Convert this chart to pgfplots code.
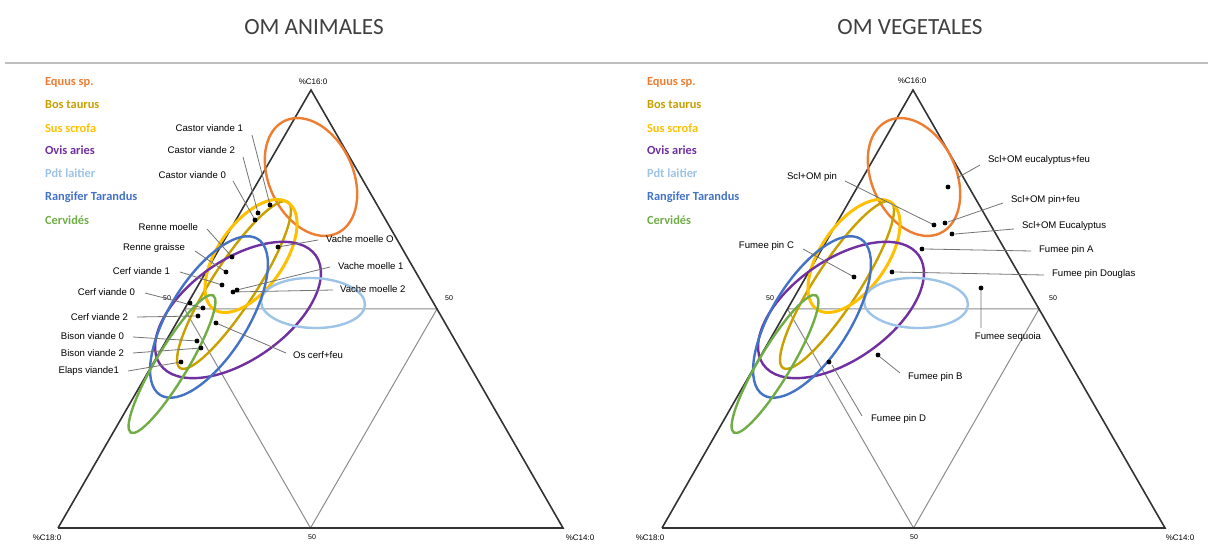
\documentclass[border=0pt]{standalone}
\usepackage{pgfplots}
\pgfplotsset{compat=1.18}
\usepackage{fontspec}
\setmainfont{Liberation Sans}
\newfontfamily\calfont{Carlito}

\definecolor{equus}{HTML}{ED7D31}
\definecolor{bos}{HTML}{C8A000}
\definecolor{sus}{HTML}{FFC000}
\definecolor{ovis}{HTML}{7030A0}
\definecolor{pdt}{HTML}{9DC3E6}
\definecolor{rang}{HTML}{4472C4}
\definecolor{cerv}{HTML}{70AD47}

% ellipse: colour, cx, cy, semi-major, semi-minor (px), angle
\newcommand{\ellip}[7][1.2pt]{%
  \draw[#2, line width=#1, rotate around={#7:(axis cs:#3,#4)}]
    (axis cs:#3,#4) ellipse [x radius=#5*0.5pt, y radius=#6*0.5pt];}
\newcommand{\lab}{\fontsize{4.8}{5}\selectfont}
\newcommand{\leg}{\calfont\bfseries\fontsize{6.2}{7}\selectfont}

\begin{document}
\begin{tikzpicture}
\begin{axis}[
    name=ax,
    width=604pt, height=272pt, scale only axis,
    xmin=0, xmax=1208, ymin=0, ymax=544, y dir=reverse,
    axis lines=none, ticks=none, clip=false
]
% titles and rule
\node[font=\calfont\fontsize{11.6}{13}\selectfont, text=black!75] at (axis cs:314,27) {OM ANIMALES};
\node[font=\calfont\fontsize{11.6}{13}\selectfont, text=black!75] at (axis cs:910,27) {OM VEGETALES};
\addplot[black!25, line width=1pt] coordinates {(5,63) (1208,63)};

% ---------- left triangle ----------
\addplot[black!45, line width=0.5pt] coordinates {(184.5,309) (437,309) (310.5,528) (184.5,309)};
\addplot[black!80, line width=0.8pt] coordinates {(58,528) (311,90) (563,528) (58,528)};
\node[font=\fontsize{4}{5}\selectfont] at (axis cs:313,82) {\%C16:0};
\node[font=\fontsize{4}{5}\selectfont] at (axis cs:47,538) {\%C18:0};
\node[font=\fontsize{4}{5}\selectfont] at (axis cs:580,538) {\%C14:0};
\node[font=\fontsize{3.5}{4}\selectfont] at (axis cs:312,537) {50};
\node[font=\fontsize{3.5}{4}\selectfont] at (axis cs:449,298) {50};
\node[font=\fontsize{3.5}{4}\selectfont] at (axis cs:167,298) {50};

\ellip{equus}{311}{177}{62}{42}{-65}
\ellip{bos}{234}{285}{99}{22}{57}
\ellip[1.5pt]{sus}{251}{256}{65}{33}{55}
\ellip{ovis}{238}{310}{95}{50}{35}
\ellip{pdt}{313}{303}{52}{25}{-2}
\ellip{rang}{209}{317}{92}{39}{58}
\ellip{cerv}{172}{364}{80}{16}{59}

\addplot[black!55, line width=0.4pt, unbounded coords=jump] coordinates {
  (252,135) (270,205) (nan,nan)
  (243,157) (258,213) (nan,nan)
  (233,181) (255,220) (nan,nan)
  (207,229) (232,257) (nan,nan)
  (195,251) (226,272) (nan,nan)
  (180,272) (222,285) (nan,nan)
  (145,293) (203,308) (nan,nan)
  (137,317) (198,316) (nan,nan)
  (133,337) (197,341) (nan,nan)
  (133,353) (201,348) (nan,nan)
  (128,371) (181,362) (nan,nan)
  (318,240) (278,247) (nan,nan)
  (330,267) (237,290) (nan,nan)
  (333,290) (233,292) (nan,nan)
  (286,353) (216,323)
};
\addplot[only marks, mark=*, mark size=1pt, black] coordinates {
  (270,205) (258,213) (255,220) (232,257) (226,272) (222,285)
  (278,247) (237,290) (233,292) (203,308) (190,303) (198,316)
  (216,323) (197,341) (201,348) (181,362)
};
\node[anchor=east, font=\lab] at (axis cs:250,128) {Castor viande 1};
\node[anchor=east, font=\lab] at (axis cs:242,150) {Castor viande 2};
\node[anchor=east, font=\lab] at (axis cs:233,175) {Castor viande 0};
\node[anchor=east, font=\lab] at (axis cs:205,227) {Renne moelle};
\node[anchor=east, font=\lab] at (axis cs:192,248) {Renne graisse};
\node[anchor=east, font=\lab] at (axis cs:177,271) {Cerf viande 1};
\node[anchor=east, font=\lab] at (axis cs:142,292) {Cerf viande 0};
\node[anchor=east, font=\lab] at (axis cs:135,317) {Cerf viande 2};
\node[anchor=east, font=\lab] at (axis cs:131,336) {Bison viande 0};
\node[anchor=east, font=\lab] at (axis cs:131,353) {Bison viande 2};
\node[anchor=east, font=\lab] at (axis cs:126,371) {Elaps viande1};
\node[anchor=west, font=\lab] at (axis cs:319,239) {Vache moelle O};
\node[anchor=west, font=\lab] at (axis cs:331,266) {Vache moelle 1};
\node[anchor=west, font=\lab] at (axis cs:333,289) {Vache moelle 2};
\node[anchor=west, font=\lab] at (axis cs:286,355) {Os cerf+feu};

% legend (left)
\node[anchor=west, font=\leg, text=equus] at (axis cs:38,82) {Equus sp.};
\node[anchor=west, font=\leg, text=bos] at (axis cs:38,105) {Bos taurus};
\node[anchor=west, font=\leg, text=sus] at (axis cs:38,128) {Sus scrofa};
\node[anchor=west, font=\leg, text=ovis] at (axis cs:38,150) {Ovis aries};
\node[anchor=west, font=\leg, text=pdt] at (axis cs:38,173) {Pdt laitier};
\node[anchor=west, font=\leg, text=rang] at (axis cs:38,197) {Rangifer Tarandus};
\node[anchor=west, font=\leg, text=cerv] at (axis cs:38,220) {Cervidés};

% ---------- right triangle ----------
\addplot[black!45, line width=0.5pt] coordinates {(787.5,309) (1039,309) (913.5,528) (787.5,309)};
\addplot[black!80, line width=0.8pt] coordinates {(662,528) (913,90) (1165,528) (662,528)};
\node[font=\fontsize{4}{5}\selectfont] at (axis cs:912,81) {\%C16:0};
\node[font=\fontsize{4}{5}\selectfont] at (axis cs:650,538) {\%C18:0};
\node[font=\fontsize{4}{5}\selectfont] at (axis cs:1180,538) {\%C14:0};
\node[font=\fontsize{3.5}{4}\selectfont] at (axis cs:914,537) {50};
\node[font=\fontsize{3.5}{4}\selectfont] at (axis cs:1053,298) {50};
\node[font=\fontsize{3.5}{4}\selectfont] at (axis cs:770,298) {50};

\ellip{equus}{914}{177}{62}{42}{-65}
\ellip{bos}{837}{285}{99}{22}{57}
\ellip[1.5pt]{sus}{854}{256}{65}{33}{55}
\ellip{ovis}{841}{310}{95}{50}{35}
\ellip{pdt}{916}{303}{52}{25}{-2}
\ellip{rang}{812}{317}{92}{39}{58}
\ellip{cerv}{775}{364}{80}{16}{59}

\addplot[black!55, line width=0.4pt, unbounded coords=jump] coordinates {
  (980,165) (957,178) (nan,nan)
  (845,181) (934,225) (nan,nan)
  (1003,203) (948,222) (nan,nan)
  (1014,229) (955,234) (nan,nan)
  (925,249) (1031,251) (nan,nan)
  (895,272) (1044,275) (nan,nan)
  (803,249) (854,277) (nan,nan)
  (981,290) (981,328) (nan,nan)
  (880,357) (900,373) (nan,nan)
  (832,365) (862,416)
};
\addplot[only marks, mark=*, mark size=1pt, black] coordinates {
  (948,187) (934,225) (945,223) (952,234) (922,249) (892,272)
  (854,277) (981,288) (878,355) (829,362)
};
\node[anchor=west, font=\lab] at (axis cs:981,160) {Scl+OM eucalyptus+feu};
\node[anchor=east, font=\lab] at (axis cs:844,177) {Scl+OM pin};
\node[anchor=west, font=\lab] at (axis cs:1004,200) {Scl+OM pin+feu};
\node[anchor=west, font=\lab] at (axis cs:1015,226) {Scl+OM Eucalyptus};
\node[anchor=west, font=\lab] at (axis cs:1032,250) {Fumee pin A};
\node[anchor=west, font=\lab] at (axis cs:1045,274) {Fumee pin Douglas};
\node[anchor=east, font=\lab] at (axis cs:801,246) {Fumee pin C};
\node[font=\lab] at (axis cs:1008,337) {Fumee sequoia};
\node[anchor=west, font=\lab] at (axis cs:901,377) {Fumee pin B};
\node[anchor=west, font=\lab] at (axis cs:864,419) {Fumee pin D};

% legend (right)
\node[anchor=west, font=\leg, text=equus] at (axis cs:640,82) {Equus sp.};
\node[anchor=west, font=\leg, text=bos] at (axis cs:640,105) {Bos taurus};
\node[anchor=west, font=\leg, text=sus] at (axis cs:640,128) {Sus scrofa};
\node[anchor=west, font=\leg, text=ovis] at (axis cs:640,150) {Ovis aries};
\node[anchor=west, font=\leg, text=pdt] at (axis cs:640,173) {Pdt laitier};
\node[anchor=west, font=\leg, text=rang] at (axis cs:640,197) {Rangifer Tarandus};
\node[anchor=west, font=\leg, text=cerv] at (axis cs:640,220) {Cervidés};
\end{axis}
\pgfresetboundingbox
\path (ax.south west) rectangle (ax.north east);
\end{tikzpicture}
\end{document}
